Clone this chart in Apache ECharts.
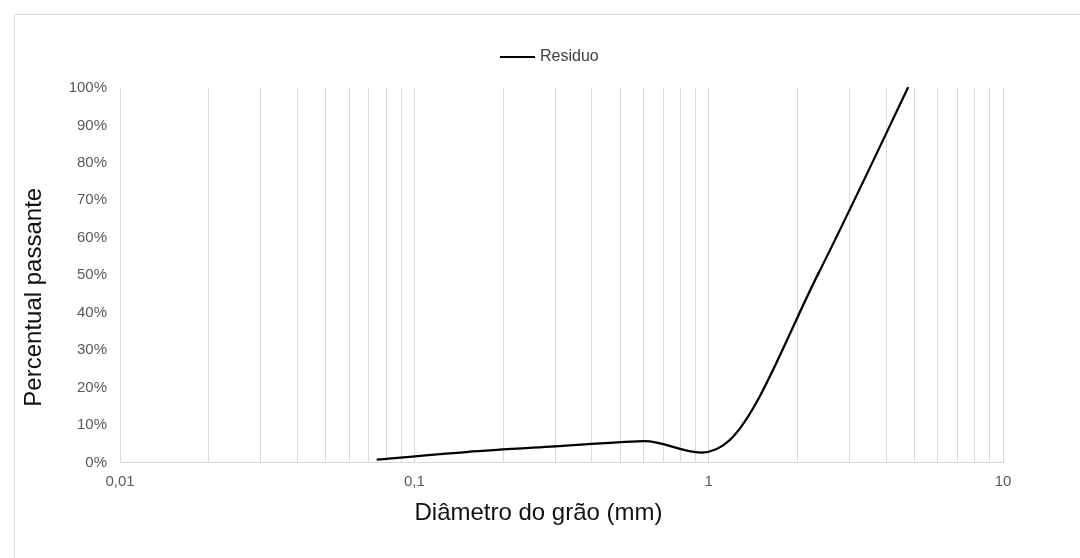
<!DOCTYPE html>
<html>
<head>
<meta charset="utf-8">
<script src="https://cdn.jsdelivr.net/npm/echarts@6/dist/echarts.min.js"></script>
<style>
  html, body { margin: 0; padding: 0; background: #fff; }
  #chart { width: 1080px; height: 558px; }
</style>
</head>
<body>
<div id="chart"></div>
<script>
// ---- data ----
const seriesName = 'Residuo';
const grainSizes = [0.075, 0.15, 0.3, 0.6, 1.18, 2.36, 4.75];     // mm
const percentPassing = [0.8, 2.8, 4.3, 5.7, 6.0, 50.5, 100];       // %
const xTickLabels = ['0,01', '0,1', '1', '10'];
const minorGridValues = [0.02, 0.03, 0.04, 0.05, 0.06, 0.07, 0.08, 0.09,
                         0.2, 0.3, 0.4, 0.5, 0.6, 0.7, 0.8, 0.9,
                         2, 3, 4, 5, 6, 7, 8, 9];
const xAxisTitle = 'Diâmetro do grão (mm)';
const yAxisTitle = 'Percentual passante';

const points = grainSizes.map((s, i) => [s, percentPassing[i]]);
const FONT = '"Liberation Sans", Arial, sans-serif';
const GRID = '#d9d9d9';

const chart = echarts.init(document.getElementById('chart'), null, { renderer: 'canvas' });

chart.setOption({
  backgroundColor: '#ffffff',
  animation: false,
  graphic: [{
    type: 'rect', left: 12, top: 12, z: -10, silent: true,
    shape: { width: 1200, height: 700 },
    style: { fill: 'none', stroke: GRID, lineWidth: 1 }
  }],
  legend: {
    data: [seriesName],
    left: 495, top: 44,
    icon: 'rect', itemWidth: 35, itemHeight: 2, itemGap: 10,
    textStyle: { fontFamily: FONT, fontSize: 16, color: '#404040' }
  },
  grid: { left: 120, right: 77, top: 88, bottom: 95.5, containLabel: false },
  xAxis: {
    type: 'log', logBase: 10, min: 0.01, max: 10,
    name: xAxisTitle, nameLocation: 'middle', nameGap: 39,
    nameTextStyle: { fontFamily: FONT, fontSize: 24, color: '#111', padding: [0, 46, 0, 0] },
    axisLine: { show: true, lineStyle: { color: GRID, width: 1 } },
    axisTick: { show: false },
    splitLine: { show: true, lineStyle: { color: GRID, width: 1 } },
    axisLabel: {
      fontFamily: FONT, fontSize: 15, color: '#595959', margin: 12,
      formatter: function (v) {
        const k = Math.round(Math.log10(v)) + 2;
        return xTickLabels[k] !== undefined ? xTickLabels[k] : '';
      }
    }
  },
  yAxis: {
    type: 'value', min: 0, max: 100, interval: 10,
    name: yAxisTitle, nameLocation: 'middle', nameGap: 74,
    nameTextStyle: { fontFamily: FONT, fontSize: 24, color: '#111', padding: [0, 44, 0, 0] },
    axisLine: { show: true, lineStyle: { color: GRID, width: 1 } },
    axisTick: { show: false },
    splitLine: { show: false },
    axisLabel: { fontFamily: FONT, fontSize: 15, color: '#595959', margin: 13, formatter: '{value}%' }
  },
  series: [
    {
      name: 'minorGrid', type: 'line', data: [], z: 1, silent: true,
      markLine: {
        silent: true, symbol: 'none', animation: false,
        label: { show: false },
        lineStyle: { color: GRID, width: 1, type: 'solid' },
        emphasis: { disabled: true },
        data: minorGridValues.map(v => ({ xAxis: v }))
      }
    },
    {
      name: seriesName, type: 'custom', coordinateSystem: 'cartesian2d', z: 5,
      data: points,
      encode: { x: 0, y: 1 },
      itemStyle: { color: '#000000' },
      clip: false,
      renderItem: function (params, api) {
        const i = params.dataIndex;
        const n = points.length;
        if (i >= n - 1) return;
        const p0 = api.coord(points[Math.max(i - 1, 0)]);
        const p1 = api.coord(points[i]);
        const p2 = api.coord(points[i + 1]);
        const p3 = api.coord(points[Math.min(i + 2, n - 1)]);
        return {
          type: 'bezierCurve',
          silent: true,
          shape: {
            x1: p1[0], y1: p1[1],
            cpx1: p1[0] + (p2[0] - p0[0]) / 6, cpy1: p1[1] + (p2[1] - p0[1]) / 6,
            cpx2: p2[0] - (p3[0] - p1[0]) / 6, cpy2: p2[1] - (p3[1] - p1[1]) / 6,
            x2: p2[0], y2: p2[1]
          },
          style: { fill: null, stroke: '#000000', lineWidth: 2.25, lineCap: 'round' }
        };
      }
    }
  ]
});
</script>
</body>
</html>
